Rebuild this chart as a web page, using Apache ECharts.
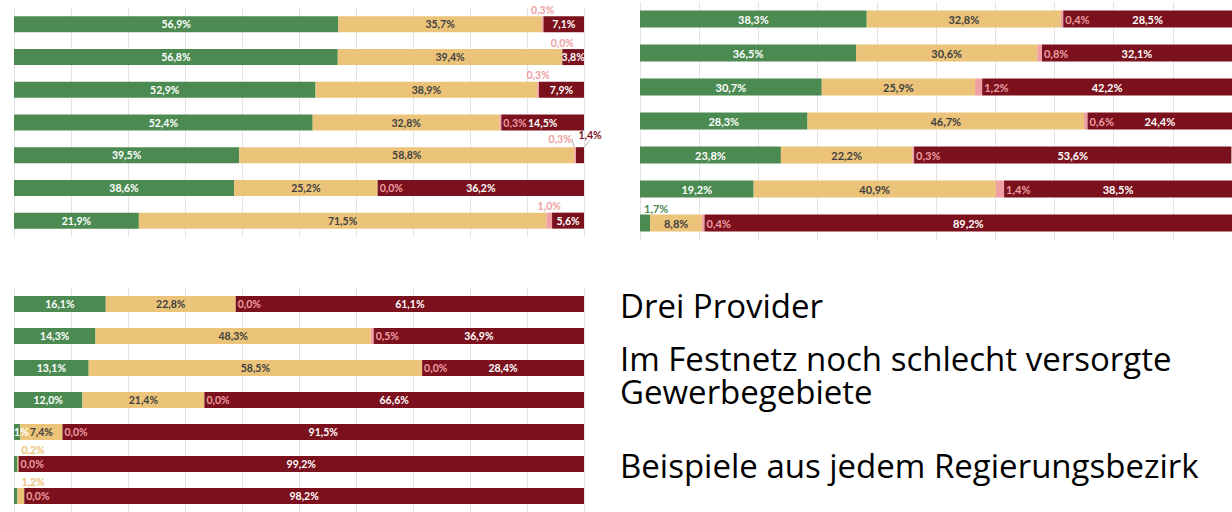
<!DOCTYPE html>
<html>
<head>
<meta charset="utf-8">
<script src="https://cdn.jsdelivr.net/npm/echarts@6/dist/echarts.min.js"></script>
<style>
  html, body { margin: 0; padding: 0; background: #fff; }
  #chart { width: 1232px; height: 512px; }
</style>
</head>
<body>
<div id="chart"></div>
<script>
var rows = ['1', '2', '3', '4', '5', '6', '7']

// Panel oben links
var gruen1 = [56.9, 56.8, 52.9, 52.4, 39.5, 38.6, 21.9]
var gelb1 = [35.7, 39.4, 38.9, 32.8, 58.8, 25.2, 71.5]
var rosa1 = [0.3, 0.0, 0.3, 0.3, 0.3, 0.0, 1.0]
var rot1 = [7.1, 3.8, 7.9, 14.5, 1.4, 36.2, 5.6]

// Panel oben rechts
var gruen2 = [38.3, 36.5, 30.7, 28.3, 23.8, 19.2, 1.7]
var gelb2 = [32.8, 30.6, 25.9, 46.7, 22.2, 40.9, 8.8]
var rosa2 = [0.4, 0.8, 1.2, 0.6, 0.3, 1.4, 0.4]
var rot2 = [28.5, 32.1, 42.2, 24.4, 53.6, 38.5, 89.2]

// Panel unten links
var gruen3 = [16.1, 14.3, 13.1, 12.0, 1.1, 0.6, 0.6]
var gelb3 = [22.8, 48.3, 58.5, 21.4, 7.4, 0.2, 1.2]
var rosa3 = [0.0, 0.5, 0.0, 0.0, 0.0, 0.0, 0.0]
var rot3 = [61.1, 36.9, 28.4, 66.6, 91.5, 99.2, 98.2]

var textBlocks = [
  'Drei Provider',
  'Im Festnetz noch schlecht versorgte\nGewerbegebiete',
  'Beispiele aus jedem Regierungsbezirk'
]

var colors = ['#4b8b51', '#ebc479', '#f0a0a3', '#7b111d']
var labelColors = ['#ffffff', '#404040', '#ee9ea3', '#ffffff']
var barW = [16, 17, 16]
var labelSize = [10.5, 11, 10.5]

// wo Labels abweichend sitzen (Serie -> Zeile -> Art)
var tweaks = [
  { 2: { 0: 'top', 1: 'top', 2: 'top', 4: 'topL', 6: 'top' }, 3: { 4: 'topR' } },
  { 0: { 6: 'topLeft' } },
  { 0: { 5: 'hide', 6: 'hide' }, 1: { 5: 'topLeft', 6: 'topLeft' } }
]
// verschobene Labels mit Fuehrungslinie
var shifts = { 'p0-2-4': [-15, -2], 'p0-3-4': [10, -6] }

function fmt (p) {
  return p.value.toFixed(1).replace('.', ',') + '%'
}

function itemLabel (kind, k) {
  if (kind === 'hide') return { show: false }
  if (kind === 'top' || kind === 'topL') return { position: 'top', distance: 1 }
  if (kind === 'topR') return { position: 'top', distance: 1, color: colors[3] }
  if (kind === 'topLeft') return { position: [4, -1], align: 'left', verticalAlign: 'bottom', color: colors[k] }
  return null
}

function panel (gi, sets) {
  return sets.map(function (arr, k) {
    var tw = tweaks[gi][k] || {}
    return {
      name: ['gruen', 'gelb', 'rosa', 'rot'][k],
      type: 'bar',
      stack: 'p' + gi,
      xAxisIndex: gi,
      yAxisIndex: gi,
      barWidth: barW[gi],
      itemStyle: { color: colors[k] },
      label: {
        show: true,
        formatter: fmt,
        color: labelColors[k],
        fontSize: labelSize[gi],
        fontWeight: 'bold',
        fontFamily: 'Lato',
        position: k === 2 ? 'right' : 'inside',
        distance: 2
      },
      labelLayout: function (p) {
        var s = shifts['p' + gi + '-' + k + '-' + p.dataIndex]
        return s ? { dx: s[0], dy: s[1] } : {}
      },
      data: arr.map(function (v, i) {
        var lab = itemLabel(tw[i], k)
        var item = lab ? { value: v, label: lab } : { value: v }
        if (shifts['p' + gi + '-' + k + '-' + i]) {
          item.labelLine = { show: true, lineStyle: { color: '#b0b0b0', width: 1 } }
        }
        return item
      }),
      animation: false
    }
  })
}

var chart = echarts.init(document.getElementById('chart'), null, { renderer: 'svg' })

var grids = [
  { left: 14, top: 8, width: 570, height: 229 },
  { left: 640, top: 2, width: 596, height: 238 },
  { left: 14, top: 288, width: 570, height: 228 }
]

var series = [].concat(
  panel(0, [gruen1, gelb1, rosa1, rot1]),
  panel(1, [gruen2, gelb2, rosa2, rot2]),
  panel(2, [gruen3, gelb3, rosa3, rot3])
)

chart.setOption({
  backgroundColor: '#fff',
  grid: grids,
  xAxis: grids.map(function (g, i) {
    return {
      type: 'value', gridIndex: i, min: 0, max: 100, interval: 10,
      axisLabel: { show: false }, axisLine: { show: false }, axisTick: { show: false },
      splitLine: { lineStyle: { color: '#e3e3e3', width: 1 } }
    }
  }),
  yAxis: grids.map(function (g, i) {
    return {
      type: 'category', gridIndex: i, data: rows, inverse: true,
      axisLabel: { show: false }, axisLine: { show: false }, axisTick: { show: false }
    }
  }),
  graphic: textBlocks.map(function (t, i) {
    return {
      type: 'text',
      left: 620,
      top: [289, 342, 449][i],
      style: { text: t, fontSize: 33, lineHeight: 33, fontFamily: 'Open Sans', fill: '#000' }
    }
  }),
  series: series
})
</script>
</body>
</html>
